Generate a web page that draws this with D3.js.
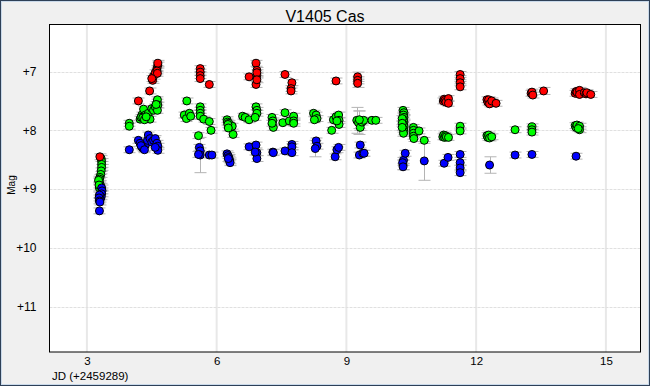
<!DOCTYPE html>
<html>
<head>
<meta charset="utf-8">
<script src="https://cdn.jsdelivr.net/npm/d3@7"></script>
<style>
  body { margin: 0; background: #f0f0f0; }
  svg { display: block; font-family: "Liberation Sans", Arial, sans-serif; }
</style>
</head>
<body>
<div id="chart"></div>
<script>
// observations: [jd offset, mag, err] (err defaults to a small value)
var redPts = [
  [3.30,8.45],
  [4.19,7.50],[4.45,7.33],[4.52,7.15],[4.54,7.08],[4.58,7.02],[4.62,6.95],[4.64,6.89],[4.64,6.86],[4.62,6.99],[4.63,7.03],[4.50,7.12],
  [5.62,6.95],[5.62,7.01],[5.62,7.07],[5.62,7.12],[5.83,7.22],
  [6.75,7.09],[6.91,6.86],[6.93,6.98],[6.93,7.06],[6.93,7.02],[6.91,7.22],[6.93,7.14],
  [7.58,7.05],[7.74,7.19],[7.72,7.29],[7.72,7.33],
  [8.76,7.16],
  [9.26,7.09,0.08],[9.26,7.15,0.06],[9.26,7.20,0.07],
  [11.24,7.50],[11.26,7.47],[11.28,7.49],[11.30,7.52],[11.36,7.46],[11.36,7.54],
  [11.63,7.05],[11.63,7.12],[11.63,7.19],[11.63,7.26],
  [12.25,7.48],[12.27,7.52],[12.29,7.48],[12.31,7.55],[12.36,7.50],[12.46,7.54],
  [13.27,7.37],[13.29,7.35],[13.31,7.40],[13.56,7.33,0.06],
  [14.29,7.37],[14.31,7.34],[14.33,7.35],[14.39,7.32],[14.39,7.39],[14.50,7.36],[14.54,7.38],[14.56,7.36],[14.65,7.39]
];

var greenPts = [
  [3.33,8.48],[3.34,8.53],[3.34,8.58],[3.34,8.63],[3.33,8.69],[3.32,8.75],[3.30,8.80],[3.29,8.83],[3.28,8.87],[3.30,8.91],[3.32,8.95],[3.29,8.98],
  [3.27,8.85],[3.28,8.93],
  [3.98,7.88],[3.98,7.93],[4.23,7.81],[4.27,7.74],[4.31,7.64],[4.35,7.74],[4.40,7.80],[4.42,7.71],[4.46,7.81],[4.50,7.63],[4.54,7.66],
  [4.58,7.60],[4.62,7.52],[4.63,7.48],[4.64,7.57],[4.63,7.66],[4.60,7.56],[4.25,7.78],[4.29,7.79],[4.33,7.82],[4.37,7.77],
  [5.31,7.50],[5.25,7.74],[5.30,7.80],[5.37,7.71],[5.40,7.76],[5.62,7.60],[5.62,7.66],[5.62,7.71],[5.62,7.76],[5.70,7.81],[5.83,7.85],[5.87,8.00],[5.58,8.09],
  [6.24,7.82],[6.25,7.86],[6.28,7.88],[6.28,7.92],[6.30,7.95],[6.36,7.93],[6.38,8.07],[6.26,7.90],[6.27,7.96],
  [6.60,7.76],[6.66,7.78],[6.75,7.82],[6.91,7.60],[6.93,7.66],[6.93,7.71],[6.89,7.78],
  [7.28,7.78],[7.30,7.84],[7.31,7.95],[7.28,7.88],
  [7.53,7.87],[7.58,7.70],[7.68,7.84],[7.78,7.76],[7.78,7.84],[7.78,7.88],
  [8.24,7.71],[8.30,7.74],[8.32,7.80],[8.26,7.82],
  [8.66,8.00],[8.70,7.82],[8.76,7.77],[8.82,7.74],[8.83,7.83],[8.83,7.90],[8.78,7.84],
  [9.24,7.83,0.22],[9.28,7.87,0.20],[9.32,7.95],[9.36,7.86],[9.40,7.83],[9.30,7.82,0.15],[9.59,7.83],[9.68,7.83],
  [10.31,7.66],[10.33,7.70],[10.32,7.74],[10.33,7.78],[10.32,7.82],[10.33,7.86],[10.32,7.90],[10.33,7.94],[10.32,7.98],[10.33,8.02],[10.32,8.05],
  [10.29,7.80],[10.29,7.88],[10.29,7.95],
  [10.55,7.95],[10.55,8.00],[10.55,8.05],[10.55,8.10],[10.56,8.14],[10.68,8.01],[10.80,8.17],
  [11.23,8.11],[11.25,8.08],[11.27,8.12],[11.29,8.09],[11.31,8.11],[11.36,8.12],[11.63,7.93],[11.63,8.01],
  [12.25,8.09],[12.27,8.12],[12.29,8.08],[12.31,8.13],[12.36,8.11],
  [12.90,7.99],
  [13.29,7.94],[13.29,7.99],[13.29,8.03],
  [14.29,7.92],[14.31,7.95],[14.33,7.91],[14.39,7.93],[14.39,7.99],[14.36,7.97]
];

var bluePts = [
  [3.34,8.98],[3.35,9.03],[3.34,9.08],[3.33,9.13],[3.31,9.17],[3.29,9.10],[3.28,9.15],[3.29,9.20],[3.30,9.22],[3.29,9.37],
  [3.98,8.33],[4.19,8.17],[4.23,8.22],[4.27,8.28],[4.31,8.31],[4.35,8.25],[4.40,8.17],[4.42,8.08],[4.46,8.14],[4.50,8.20],
  [4.54,8.17],[4.58,8.14],[4.62,8.22],[4.64,8.27],[4.64,8.34],[4.58,8.29],[4.29,8.30],[4.25,8.26],[4.33,8.33],
  [5.60,8.29],[5.62,8.35],[5.62,8.42,0.30],[5.58,8.41],[5.83,8.42],[5.89,8.42],
  [6.24,8.40],[6.26,8.43],[6.28,8.46],[6.29,8.49],[6.30,8.52],[6.31,8.55],[6.27,8.48],
  [6.75,8.28],[6.91,8.25],[6.93,8.38],[6.93,8.48],[6.89,8.37],
  [7.30,8.37],[7.31,8.38],[7.58,8.35],[7.74,8.24],[7.74,8.28],[7.74,8.38],
  [8.30,8.18],[8.32,8.27],[8.28,8.31,0.14],
  [8.74,8.45],[8.78,8.33],[8.82,8.29],
  [9.32,8.25],[9.30,8.42],[9.38,8.39],[9.41,8.39],
  [10.32,8.51],[10.31,8.59,0.08],[10.36,8.39],[10.30,8.55],[10.31,8.62],
  [10.80,8.52,0.33],
  [11.26,8.56],[11.35,8.46],[11.63,8.41],[11.63,8.55],[11.63,8.64],[11.63,8.72],
  [12.31,8.59,0.14],[12.90,8.42],[13.29,8.41],[14.31,8.44]
];

var xTicks = [3, 6, 9, 12, 15];
var yTicks = [7, 8, 9, 10, 11];

var W = 650, H = 386;
var plot = {left: 49.5, right: 640.5, top: 24.5, bottom: 352};

var svg = d3.select("#chart").append("svg")
    .attr("width", W)
    .attr("height", H);

// window frame
svg.append("rect").attr("x", 0.5).attr("y", 0.5).attr("width", W - 1).attr("height", H - 1)
    .attr("fill", "#f0f0f0").attr("stroke", "#2e4057");
svg.append("rect").attr("x", 1.5).attr("y", 1.5).attr("width", W - 3).attr("height", H - 3)
    .attr("fill", "none").attr("stroke", "#c9d9ea");

var x = d3.scaleLinear().domain([2.135, 15.8]).range([plot.left, plot.right]);
var y = d3.scaleLinear().domain([6.2, 11.77]).range([plot.top, plot.bottom]);

svg.append("rect")
    .attr("x", plot.left).attr("y", plot.top)
    .attr("width", plot.right - plot.left).attr("height", plot.bottom - plot.top)
    .attr("fill", "#fff");

// grid
svg.append("g").selectAll("line")
    .data(xTicks)
  .enter().append("line")
    .attr("x1", function(d) { return x(d); }).attr("x2", function(d) { return x(d); })
    .attr("y1", plot.top).attr("y2", plot.bottom)
    .attr("stroke", "#e8e8e8").attr("stroke-width", 2);
svg.append("g").selectAll("line")
    .data(yTicks)
  .enter().append("line")
    .attr("x1", plot.left).attr("x2", plot.right)
    .attr("y1", function(d) { return Math.round(y(d)) + 0.5; }).attr("y2", function(d) { return Math.round(y(d)) + 0.5; })
    .attr("stroke", "#e0e0e0").attr("stroke-dasharray", "3,1");

// axes
var yAxis = d3.axisLeft(y).tickValues(yTicks).tickSize(0).tickPadding(13)
    .tickFormat(function(d) { return "+" + d; });
var xAxis = d3.axisBottom(x).tickValues(xTicks).tickSize(0).tickPadding(5);

svg.append("g")
    .attr("transform", "translate(" + plot.left + ",0)")
    .call(yAxis)
    .call(function(g) { g.select(".domain").remove(); })
    .selectAll("text").style("font-size", "12px").style("fill", "#000");

svg.append("g")
    .attr("transform", "translate(0," + plot.bottom + ")")
    .call(xAxis)
    .call(function(g) { g.select(".domain").remove(); })
    .selectAll("text").style("font-size", "11.5px").style("fill", "#000");

// error bars then points
var series = [
  {pts: greenPts, color: "#00ff00"},
  {pts: redPts, color: "#ff0000"},
  {pts: bluePts, color: "#0000ff"}
];

var errG = svg.append("g").attr("stroke", "#b4b4b4").attr("stroke-width", 1);
series.forEach(function(s) {
  s.pts.forEach(function(p) {
    var e = p.length > 2 ? p[2] : 0.05;
    var cx = Math.round(x(p[0])) + 0.5, y1 = y(p[1] - e), y2 = y(p[1] + e);
    errG.append("line").attr("x1", cx).attr("x2", cx).attr("y1", y1).attr("y2", y2);
    errG.append("line").attr("x1", cx - 6).attr("x2", cx + 6).attr("y1", y1).attr("y2", y1);
    errG.append("line").attr("x1", cx - 6).attr("x2", cx + 6).attr("y1", y2).attr("y2", y2);
  });
});

series.forEach(function(s) {
  svg.append("g").selectAll("circle")
      .data(s.pts)
    .enter().append("circle")
      .attr("cx", function(d) { return x(d[0]); })
      .attr("cy", function(d) { return y(d[1]); })
      .attr("r", 4)
      .attr("fill", s.color)
      .attr("stroke", "#000")
      .attr("stroke-width", 1);
});

// plot frame
svg.append("rect")
    .attr("x", plot.left).attr("y", plot.top)
    .attr("width", plot.right - plot.left).attr("height", plot.bottom - plot.top)
    .attr("fill", "none").attr("stroke", "#000");

// labels
svg.append("text")
    .attr("x", 325).attr("y", 22)
    .attr("text-anchor", "middle")
    .style("font-size", "16px")
    .text("V1405 Cas");

svg.append("text")
    .attr("transform", "translate(15,185) rotate(-90)")
    .attr("text-anchor", "middle")
    .style("font-size", "10px")
    .text("Mag");

svg.append("text")
    .attr("x", 52).attr("y", 380)
    .style("font-size", "11.5px")
    .text("JD (+2459289)");
</script>
</body>
</html>
